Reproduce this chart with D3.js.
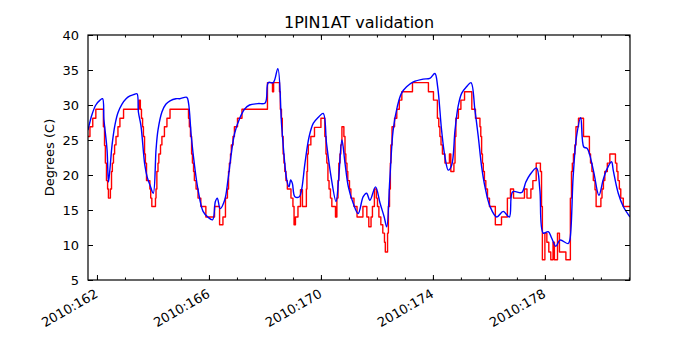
<!DOCTYPE html>
<html>
<head>
<meta charset="utf-8">
<script src="https://cdn.jsdelivr.net/npm/d3@7"></script>
<style>
body{margin:0;background:#fff;}
svg{display:block;font-family:"DejaVu Sans",sans-serif;}
</style>
</head>
<body>
<svg id="chart" width="700" height="350"></svg>
<script>
// Title / labels
const title = "1PIN1AT validation";
const yLabel = "Degrees (C)";
const xDomain = [161.68, 181.04];
const yDomain = [5, 40];
const xMajorTicks = [162, 166, 170, 174, 178];
const xTickLabels = ["2010:162", "2010:166", "2010:170", "2010:174", "2010:178"];
const yTicks = [5, 10, 15, 20, 25, 30, 35, 40];

// Telemetry (red, stepped) — day of year, degrees C
const telemDays = [161.68,161.75,161.85,161.96,162.23,162.27,162.30,162.34,162.38,162.41,162.48,162.52,162.55,162.59,162.63,162.68,162.75,162.82,162.95,
163.50,163.55,163.59,163.63,163.66,163.70,163.73,163.77,163.89,163.92,163.96,164.09,164.11,164.14,164.18,164.21,164.27,164.32,164.41,164.50,164.61,
165.27,165.30,165.34,165.38,165.41,165.45,165.48,165.54,165.61,165.71,165.89,166.20,166.38,166.50,166.59,166.66,166.70,166.73,166.77,166.80,166.86,166.91,167.02,167.18,
168.09,168.27,168.31,168.52,168.55,168.59,168.62,168.65,168.68,168.71,168.75,168.80,168.93,169.00,169.04,169.09,169.18,169.27,169.34,169.48,169.50,169.52,169.55,169.64,169.77,
170.00,170.14,170.18,170.21,170.25,170.29,170.34,170.39,170.52,170.57,170.61,170.64,170.68,170.71,170.75,170.82,170.86,170.89,170.93,170.96,171.02,171.07,171.18,171.29,
171.50,171.64,171.71,171.79,171.84,171.91,171.98,172.02,172.07,172.14,172.21,172.27,172.30,172.38,172.41,172.45,172.48,172.50,172.54,172.63,172.71,172.80,172.89,173.27,173.84,
174.02,174.16,174.21,174.25,174.29,174.34,174.43,174.59,174.64,174.75,174.79,174.82,174.91,175.00,175.13,175.39,175.52,
175.68,175.71,175.74,175.77,175.80,175.84,175.89,175.95,176.02,176.23,176.45,176.66,176.77,176.88,177.27,177.36,177.50,177.57,177.69,177.84,177.88,177.91,
178.00,178.07,178.14,178.21,178.29,178.34,178.45,178.52,178.75,178.91,178.95,178.98,179.02,179.07,179.11,179.20,179.38,179.59,179.63,179.68,179.73,179.79,179.83,
180.00,180.04,180.09,180.14,180.23,180.32,180.52,180.57,180.61,180.66,180.71,180.80,181.04];
const telemTemps = [25.5,26.9,28.1,29.4,26.9,24.2,21.7,19.2,18.0,16.7,18.0,20.5,21.7,23.0,24.3,25.5,26.9,28.1,29.4,
30.7,29.4,28.1,26.9,25.5,23.0,21.7,19.2,18.0,16.7,15.5,16.7,18.0,20.5,21.7,23.0,24.3,25.5,26.9,28.1,29.4,
28.1,26.9,25.5,23.0,21.7,20.5,19.2,18.0,16.7,15.5,14.0,15.5,12.9,14.0,16.7,18.0,20.5,21.7,23.0,24.3,25.5,26.9,28.1,29.4,
33.2,31.9,33.2,31.9,29.4,28.1,25.5,23.0,21.7,20.5,19.2,18.0,16.7,15.5,12.9,14.0,15.5,17.9,15.5,18.0,20.5,23.0,24.3,25.5,26.8,
28.1,25.5,23.0,21.7,19.2,18.0,16.7,15.5,14.0,16.7,19.2,21.7,23.0,24.3,26.9,25.5,23.0,21.7,20.5,19.2,18.0,16.7,15.5,14.0,
15.5,14.0,12.6,14.0,15.5,18.0,16.7,15.5,14.0,12.9,11.7,10.4,9.0,11.7,15.5,18.0,21.7,24.3,26.9,28.1,29.4,30.7,31.9,33.2,31.9,
30.7,28.1,26.9,25.5,24.3,23.0,21.7,23.0,20.5,21.7,25.5,28.1,29.4,30.7,31.9,29.4,28.1,
26.9,25.5,23.0,21.7,20.5,19.2,18.0,16.7,15.5,12.9,14.0,16.7,18.0,16.7,18.0,16.7,18.0,19.2,21.7,20.5,15.5,7.9,
11.7,10.4,9.0,7.9,10.4,7.9,11.7,9.0,7.9,16.7,20.5,21.7,23.0,24.3,26.9,28.1,25.5,23.0,21.7,20.5,19.2,17.9,15.5,
16.7,18.0,19.2,20.5,21.7,23.0,21.7,20.5,19.2,18.0,16.7,15.5,15.5];

// Model (blue, smooth) — day of year, degrees C
const modelDays = [161.68,161.82,161.96,162.11,162.20,162.25,162.36,162.41,162.46,162.54,162.64,162.75,162.89,163.04,163.18,163.32,163.43,163.48,163.57,163.71,163.80,163.89,
164.01,164.11,164.18,164.32,164.46,164.61,164.82,164.96,165.21,165.27,165.37,165.49,165.61,165.79,165.96,166.13,166.23,166.30,166.40,166.56,166.68,166.80,166.92,
167.10,167.27,167.45,167.75,168.01,168.12,168.30,168.46,168.60,168.78,168.86,168.92,168.98,169.07,169.23,169.31,169.43,169.58,169.73,169.90,170.08,170.20,170.36,
170.54,170.63,170.75,170.86,170.98,171.15,171.33,171.51,171.63,171.75,171.95,172.11,172.26,172.35,172.46,172.58,172.73,172.88,173.06,173.30,173.65,173.89,174.07,
174.17,174.31,174.43,174.55,174.67,174.79,174.90,175.03,175.20,175.36,175.50,175.62,175.74,175.86,176.04,176.28,176.51,176.73,176.85,177.17,177.32,177.46,177.70,
177.82,177.94,178.12,178.24,178.39,178.54,178.83,178.89,179.01,179.13,179.28,179.39,179.51,179.73,179.93,180.08,180.20,180.38,180.44,180.62,180.80,181.04];
const modelTemps = [26.4,28.6,30.0,30.7,30.9,27.9,23.6,19.0,20.7,24.3,27.1,28.9,30.1,30.9,31.3,31.5,31.6,29.0,27.1,21.4,19.6,18.6,
17.4,23.6,26.4,29.0,30.1,30.6,30.9,30.9,31.1,30.3,25.5,21.2,17.9,14.8,14.0,13.6,16.2,16.7,15.2,16.4,19.3,23.1,26.0,
28.1,29.4,30.0,30.2,30.3,33.2,33.2,35.2,26.9,19.3,18.3,19.3,18.8,16.9,16.9,17.9,21.7,25.5,27.4,28.2,28.8,24.5,19.8,
16.2,19.3,25.0,21.7,18.3,16.0,14.5,16.9,17.4,16.4,18.3,16.0,14.0,12.6,19.3,26.4,29.8,31.7,32.6,33.3,33.7,33.8,34.5,
32.6,26.4,22.6,20.7,21.4,26.4,29.8,31.7,32.6,33.2,29.3,25.5,21.2,18.3,15.5,14.0,14.8,14.0,17.6,17.5,19.0,20.0,21.0,
17.9,11.7,11.9,11.0,9.8,10.7,10.2,10.7,19.8,25.5,28.2,24.0,23.8,20.7,17.1,19.3,20.7,21.9,20.7,17.4,15.5,14.0];

const margin = {left: 88, right: 630, top: 35, bottom: 280};
const svg = d3.select("#chart");
const x = d3.scaleLinear().domain(xDomain).range([margin.left, margin.right]);
const y = d3.scaleLinear().domain(yDomain).range([margin.bottom, margin.top]);

svg.append("clipPath").attr("id", "clip").append("rect")
  .attr("x", margin.left).attr("y", margin.top)
  .attr("width", margin.right - margin.left).attr("height", margin.bottom - margin.top);

const telem = telemDays.map((d, i) => [d, telemTemps[i]]);
const model = modelDays.map((d, i) => [d, modelTemps[i]]);

const g = svg.append("g").attr("clip-path", "url(#clip)");
g.append("path").datum(telem)
  .attr("fill", "none").attr("stroke", "#ff0000").attr("stroke-width", 1.4)
  .attr("stroke-linejoin", "round")
  .attr("d", d3.line().x(d => x(d[0])).y(d => y(d[1])).curve(d3.curveStepAfter));
g.append("path").datum(model)
  .attr("fill", "none").attr("stroke", "#0000ff").attr("stroke-width", 1.4)
  .attr("stroke-linejoin", "round")
  .attr("d", d3.line().x(d => x(d[0])).y(d => y(d[1])).curve(d3.curveCatmullRom.alpha(0.5)));

// Axes (matplotlib style: inward ticks on all sides)
const minorDays = d3.range(162, 182, 1);

svg.append("g").attr("transform", `translate(0,${margin.bottom})`)
  .call(d3.axisBottom(x).tickValues(minorDays).tickSize(-2.5).tickFormat(""));
svg.append("g").attr("transform", `translate(0,${margin.bottom})`)
  .call(d3.axisBottom(x).tickValues(xMajorTicks).tickSize(-5).tickFormat(""));
svg.append("g").attr("transform", `translate(0,${margin.top})`)
  .call(d3.axisTop(x).tickValues(minorDays).tickSize(-2.5).tickFormat(""));
svg.append("g").attr("transform", `translate(0,${margin.top})`)
  .call(d3.axisTop(x).tickValues(xMajorTicks).tickSize(-5).tickFormat(""));
svg.append("g").attr("transform", `translate(${margin.left},0)`)
  .call(d3.axisLeft(y).tickValues(yTicks).tickSize(-5).tickPadding(9).tickFormat(d3.format("d")))
  .call(a => a.selectAll("text").attr("font-size", 13).attr("font-family", "DejaVu Sans").attr("fill", "#000"));
svg.append("g").attr("transform", `translate(${margin.right},0)`)
  .call(d3.axisRight(y).tickValues(yTicks).tickSize(-5).tickFormat(""));

svg.selectAll(".domain").remove();
svg.selectAll(".tick line").attr("stroke", "#000").attr("stroke-width", 1);

// frame
svg.append("rect").attr("x", margin.left).attr("y", margin.top)
  .attr("width", margin.right - margin.left).attr("height", margin.bottom - margin.top)
  .attr("fill", "none").attr("stroke", "#000").attr("stroke-width", 1.2);

// x tick labels rotated
svg.append("g").selectAll("text").data(xMajorTicks).join("text")
  .attr("transform", d => `translate(${x(d) - 3},${margin.bottom + 8}) rotate(-30)`)
  .attr("text-anchor", "end").attr("dy", "0.75em")
  .attr("font-size", 13).attr("fill", "#000")
  .text((d, i) => xTickLabels[i]);

svg.append("text").attr("x", (margin.left + margin.right) / 2).attr("y", 28)
  .attr("text-anchor", "middle").attr("font-size", 16).attr("fill", "#000").text(title);

svg.append("text").attr("transform", `translate(54,${(margin.top + margin.bottom) / 2}) rotate(-90)`)
  .attr("text-anchor", "middle").attr("font-size", 13).attr("fill", "#000").text(yLabel);
</script>
</body>
</html>
